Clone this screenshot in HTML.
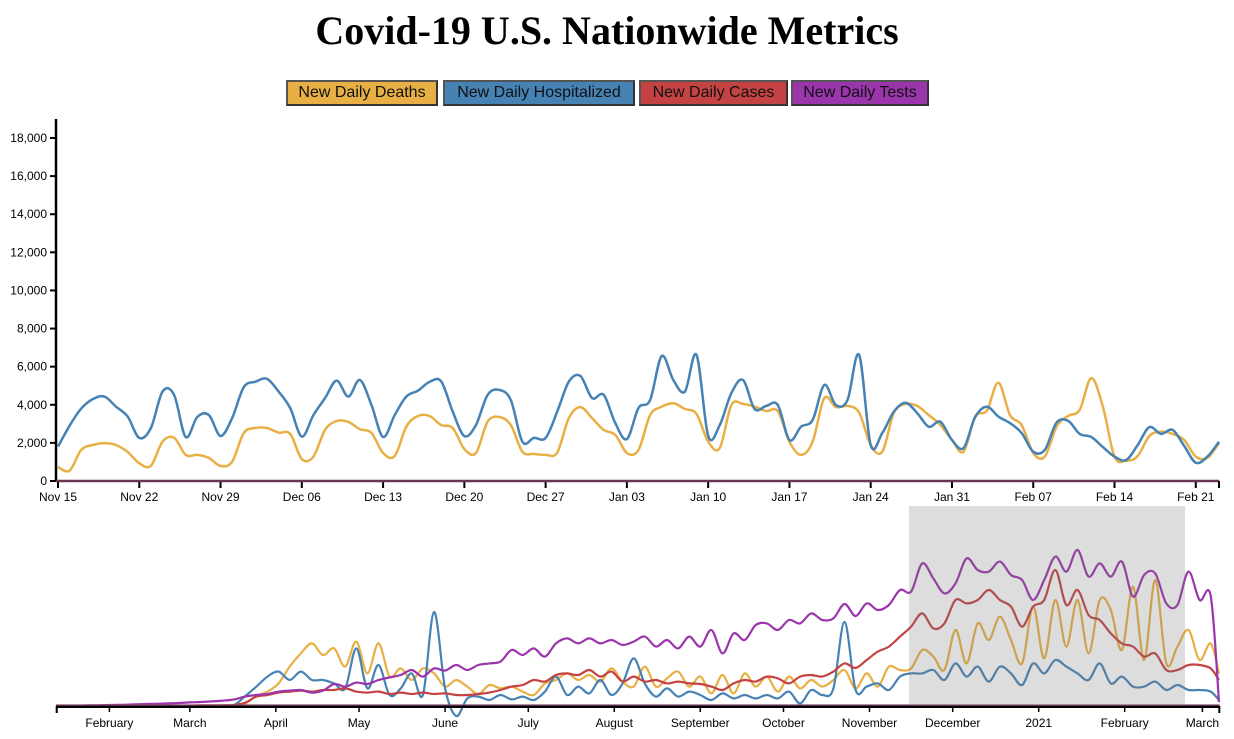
<!DOCTYPE html>
<html><head><meta charset="utf-8">
<style>
body{margin:0;width:1234px;height:739px;background:#fff;overflow:hidden;font-family:"Liberation Sans",Arial,sans-serif;}
#title{position:absolute;left:0;top:7px;width:1214px;text-align:center;font-family:"Liberation Serif",serif;font-weight:bold;font-size:40px;margin:0;}
.btn{position:absolute;top:80px;height:26px;box-sizing:border-box;border:2px solid #555;border-right-color:#333;border-bottom-color:#333;font-size:16px;line-height:22px;text-align:center;color:#111;}
svg{position:absolute;left:0;top:0;}
</style></head><body>
<h1 id="title">Covid-19 U.S. Nationwide Metrics</h1>
<div class="btn" style="left:286px;width:152px;background:#e8b044;">New Daily Deaths</div>
<div class="btn" style="left:443px;width:192px;background:#4682b4;">New Daily Hospitalized</div>
<div class="btn" style="left:639px;width:149px;background:#c44242;">New Daily Cases</div>
<div class="btn" style="left:791px;width:138px;background:#9b35ab;">New Daily Tests</div>
<svg id="chart" width="1234" height="739"></svg>
<script>
// ---- main chart data (daily, Nov 15 onward) ----
const mainDeaths=[735,540,1630,1890,1990,1890,1520,930,800,2060,2270,1370,1370,1210,790,1010,2520,2780,2780,2540,2470,1150,1280,2680,3150,3100,2720,2520,1470,1310,2850,3410,3410,
2940,2780,1680,1470,3110,3360,2940,1540,1420,1370,1490,3300,3880,3300,2680,2420,1470,1630,3460,3900,4080,3780,3520,2060,1730,3990,4040,3900,3670,3670,2060,1370,2060,4350,3880,3940,3590,1890,1540,3590,4040,3940,3460,2940,2150,1540,3380,3690,5160,3460,2940,1470,1280,2850,3410,3730,5400,3900,1280,1060,1310,2360,2590,2470,2150,1280,1210,1990];
const mainHosp=[1800,2900,3800,4300,4430,3900,3380,2260,2780,4690,4520,2310,3360,3460,2360,3300,4930,5210,5360,4690,3830,2330,3460,4350,5270,4430,5300,3990,2310,3460,4430,4740,5200,
5230,3640,2360,2940,4520,4780,4250,2060,2260,2260,3640,5210,5510,4350,4520,3040,2200,3830,4250,6560,5300,4690,6620,2360,2940,4620,5300,3780,3940,3990,2150,2850,3200,5040,3990,4250,6620,1890,2520,3640,4110,3570,2850,3110,2150,1730,3360,3900,3380,3040,2520,1540,1630,3060,3160,2470,2310,1780,1280,1100,1890,2830,2470,2680,1840,960,1280,2060];
const mainTickLabels=["Nov 15","Nov 22","Nov 29","Dec 06","Dec 13","Dec 20","Dec 27","Jan 03","Jan 10","Jan 17","Jan 24","Jan 31","Feb 07","Feb 14","Feb 21"];
const yTickValues=[0,2000,4000,6000,8000,10000,12000,14000,16000,18000];
// ---- overview data (index 0-100, every 4 days from Jan 13 2020) ----
const ovTests=[0,0,0.2,0.3,0.4,0.5,0.6,0.8,1,1.1,1.3,1.5,1.8,2,2.3,2.7,3.3,4.7,5.5,6,7.2,7.7,8,6.7,7.7,11,9.7,11.7,11,13,14.3,15.5,18,14.7,18.8,17.7,20.5,18,20.5,21.3,22.2,28,25.5,28.8,24.7,31.3,33.8,31.3,33.8,31.3,33,30.5,32.2,34.7,29.7,33,28.8,34.7,29.7,38,26.3,36.3,33,40.5,41.3,38,43,41.3,46.3,43,43.8,51,45,51.3,48,50.5,58,57.2,71.3,63.8,56.3,61.3,73.8,68,67.2,72.2,65.5,63,53,63,74.7,67.2,78,64.7,71.3,64.7,72.2,54.7,65.5,66.3,51.3,50.5,67.2,53,55,2];
const ovCases=[0,0,0,0,0,0,0,0,0,0.1,0.1,0.2,0.2,0.3,0.3,0.4,0.5,1.7,4.7,5.5,6.7,7.2,7.7,7.2,8,8,8.8,7.2,6.7,7.2,6,6.7,6,6.7,6,6.3,5.5,5.5,6,6.7,8,9.7,10.5,13,12.2,15.5,16.3,15.5,18,14.7,17.2,12.2,14.7,12.2,13,11.3,12.2,11.3,11,9.7,8,11.3,13,12.2,14.7,13.8,11.3,14.7,15.5,14.7,17.2,21.3,19,23,27.2,29.7,34.7,39.7,46.3,38.8,41.3,53,51.3,53,58,53,49.7,39.7,49.7,53,68,50.5,58,45.5,43,36.3,31.3,29.7,24.7,26.3,18,18,20.5,20.5,18.8,13];
const ovDeaths=[0,0,0,0,0,0,0,0,0,0,0,0,0,0,0,0,0.3,1.3,5,7.2,11.3,19.7,26.3,31.3,25.5,28.8,19.7,32.2,16.3,31.3,14.7,18.8,13,18.8,16.3,9.7,13,9.7,6,10.5,8.8,9.7,7.2,5.5,11.3,13,16.3,13,15.5,12.2,18.8,12.2,9.7,19.7,9.7,13.8,17.2,9.7,14.7,6.3,15.5,6.3,16.3,9.7,14.7,7.2,14.7,8.8,13,9.7,13,18,8.8,16.3,9.7,19.7,18,18.8,28,24.7,18,38,21.3,41.3,33,44.7,33,21.3,49.7,23.8,53,29.7,53,26.3,53,48,28,59.7,23,63,21.3,29.7,38,23,31.3,16.3];
const ovHosp=[0,0,0,0,0,0,0,0,0,0,0,0,0,0,0,0,0.5,5,9.7,14.7,17.2,13,17.2,13,13,11.3,8.8,28.8,8.8,20.5,5.5,8.8,16.3,5.5,47,8.8,-5,3.8,4.7,3,5.5,3.3,4.7,3,7.2,14.7,5.5,9.7,6.3,13,5.5,11.3,23.8,11.3,4.7,8.8,4.7,7.2,5.5,3,6.3,3.8,5.5,3.8,5.5,3.8,7.2,1.3,8,5.5,8.8,42,8,9.7,11.3,8,14.7,16.3,16.3,18,13,21.3,14.7,19.7,12.2,19.7,16.3,10.5,21.3,16.3,23,19.7,16.3,13,21.3,11.3,14.7,9.7,9.7,12.2,8,10.5,8,8,7.2,3];
const ovMonthLabels=["February","March","April","May","June","July","August","September","October","November","December","2021","February","March"];
const ovMonthDays=[19,48,79,109,140,170,201,232,262,293,323,354,385,413];

const NS="http://www.w3.org/2000/svg";
const svg=document.getElementById('chart');
function mk(tag,attrs,parent){const e=document.createElementNS(NS,tag);for(const k in attrs)e.setAttribute(k,attrs[k]);(parent||svg).appendChild(e);return e;}
function smooth(pts){
  let d="M"+pts[0][0].toFixed(1)+","+pts[0][1].toFixed(1);
  for(let i=0;i<pts.length-1;i++){
    const p0=pts[Math.max(0,i-1)],p1=pts[i],p2=pts[i+1],p3=pts[Math.min(pts.length-1,i+2)];
    const c1x=p1[0]+(p2[0]-p0[0])/6,c1y=p1[1]+(p2[1]-p0[1])/6;
    const c2x=p2[0]-(p3[0]-p1[0])/6,c2y=p2[1]-(p3[1]-p1[1])/6;
    d+="C"+c1x.toFixed(1)+","+c1y.toFixed(1)+" "+c2x.toFixed(1)+","+c2y.toFixed(1)+" "+p2[0].toFixed(1)+","+p2[1].toFixed(1);
  }
  return d;
}
const mx=d=>58+d*(1161/(mainDeaths.length-1));
const my=v=>481-v*(343/18000);
const yAxis=mk('g',{});


mk('line',{x1:56,y1:119,x2:56,y2:482,stroke:'#000','stroke-width':2.5},yAxis);
yTickValues.forEach(v=>{
  const y=my(v);
  mk('line',{x1:50,y1:y,x2:56,y2:y,stroke:'#000','stroke-width':2},yAxis);
  const t=mk('text',{x:47,y:y+4,'text-anchor':'end','font-size':12,fill:'#000'},yAxis);
  t.textContent=v.toLocaleString('en-US');
  
  
});
const xAxis=mk('g',{});


mainTickLabels.forEach((lab,i)=>{
  const x=mx(i*7);
  mk('line',{x1:x,y1:481,x2:x,y2:488,stroke:'#000','stroke-width':2},xAxis);
  const t=mk('text',{x:x,y:501,'text-anchor':'middle','font-size':12,fill:'#000'},xAxis);
  t.textContent=lab;
  
  
});
mk('line',{x1:56,y1:481,x2:1219,y2:481,stroke:'#6a3550','stroke-width':2.5},xAxis);
mk('line',{x1:1219,y1:481,x2:1219,y2:488,stroke:'#000','stroke-width':2},xAxis);
const ld=mk('path',{d:smooth(mainDeaths.map((v,i)=>[mx(i),my(v)])),fill:'none',stroke:'#e8b044','stroke-width':2.5});


const lh=mk('path',{d:smooth(mainHosp.map((v,i)=>[mx(i),my(v)])),fill:'none',stroke:'#4682b4','stroke-width':2.5});



const ox=i=>56.7+Math.min(i*4,419)*2.774;
const oxd=d=>56.7+d*2.774;
const oy=v=>706-v*2;
[[ovDeaths,'#e8b044','overview-deaths-line'],[ovHosp,'#4682b4','overview-hospitalized-line'],[ovCases,'#c44242','overview-cases-line'],[ovTests,'#9b35ab','overview-tests-line']].forEach(([arr,c,n])=>{
  const p=mk('path',{d:smooth(arr.map((v,i)=>[ox(i),oy(v)])),fill:'none',stroke:c,'stroke-width':2.2});
  
  
});
const oAxis=mk('g',{});


mk('line',{x1:56,y1:706.5,x2:1219.5,y2:706.5,stroke:'#000','stroke-width':3},oAxis);
mk('line',{x1:56,y1:705,x2:1219.5,y2:705,stroke:'#8a4a70','stroke-width':1.2},oAxis);
mk('line',{x1:56.7,y1:706,x2:56.7,y2:713,stroke:'#000','stroke-width':2},oAxis);
mk('line',{x1:1219.3,y1:706,x2:1219.3,y2:713,stroke:'#000','stroke-width':2},oAxis);
ovMonthLabels.forEach((lab,i)=>{
  const x=oxd(ovMonthDays[i]);
  mk('line',{x1:x,y1:706,x2:x,y2:712,stroke:'#000','stroke-width':1.5},oAxis);
  const t=mk('text',{x:x,y:727,'text-anchor':'middle','font-size':12,fill:'#000'},oAxis);
  t.textContent=lab;
  
  
});
const brush=mk('rect',{x:909,y:506,width:276,height:200,fill:'rgba(119,119,119,0.25)'});


</script>
</body></html>
